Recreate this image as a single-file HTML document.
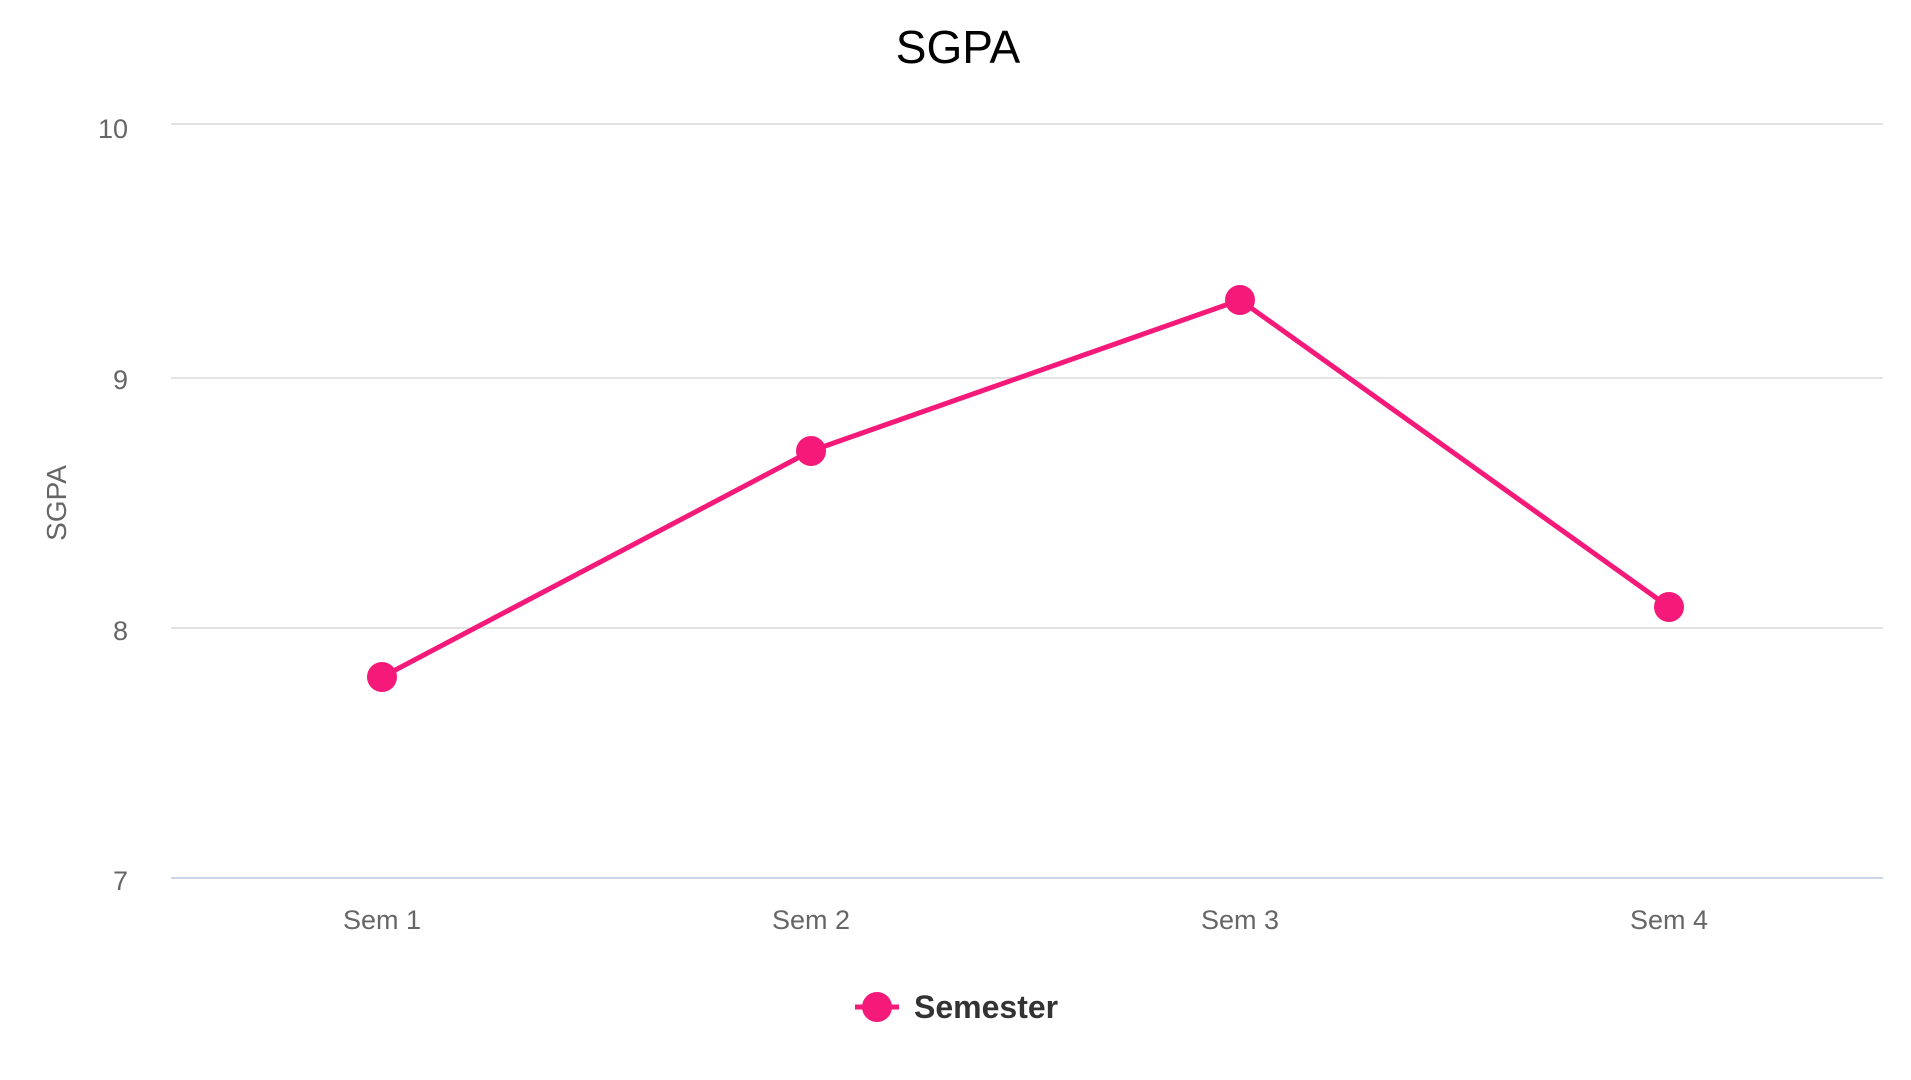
<!DOCTYPE html>
<html><head><style>
html,body{margin:0;padding:0;background:#fff;}
svg{display:block;font-family:"Liberation Sans",sans-serif;}
</style></head><body>
<svg width="1911" height="1080" viewBox="0 0 1911 1080">
<text x="958" y="63" font-size="46" text-anchor="middle" fill="#000">SGPA</text>
<g stroke="#e3e3e3" stroke-width="2">
<line x1="171" y1="124" x2="1883" y2="124"/>
<line x1="171" y1="378" x2="1883" y2="378"/>
<line x1="171" y1="628" x2="1883" y2="628"/>
</g>
<line x1="171" y1="878" x2="1883" y2="878" stroke="#ccd6e6" stroke-width="2"/>
<g font-size="27" fill="#666" text-anchor="end">
<text x="128" y="138">10</text>
<text x="128" y="389">9</text>
<text x="128" y="640">8</text>
<text x="128" y="890">7</text>
</g>
<text transform="translate(66,503) rotate(-90)" font-size="28" fill="#666" text-anchor="middle">SGPA</text>
<g font-size="27" fill="#666" text-anchor="middle">
<text x="382" y="929">Sem 1</text>
<text x="811" y="929">Sem 2</text>
<text x="1240" y="929">Sem 3</text>
<text x="1669" y="929">Sem 4</text>
</g>
<polyline points="382,677 811,451 1240,300 1669,607" fill="none" stroke="#f5197a" stroke-width="5" stroke-linejoin="round"/>
<g fill="#f5197a">
<circle cx="382" cy="677" r="15"/>
<circle cx="811" cy="451" r="15"/>
<circle cx="1240" cy="300" r="15"/>
<circle cx="1669" cy="607" r="15"/>
</g>
<line x1="855" y1="1007" x2="899" y2="1007" stroke="#f5197a" stroke-width="5"/>
<circle cx="877" cy="1007" r="15" fill="#f5197a"/>
<text x="914" y="1018" font-size="32" font-weight="bold" fill="#333">Semester</text>
</svg>
</body></html>
